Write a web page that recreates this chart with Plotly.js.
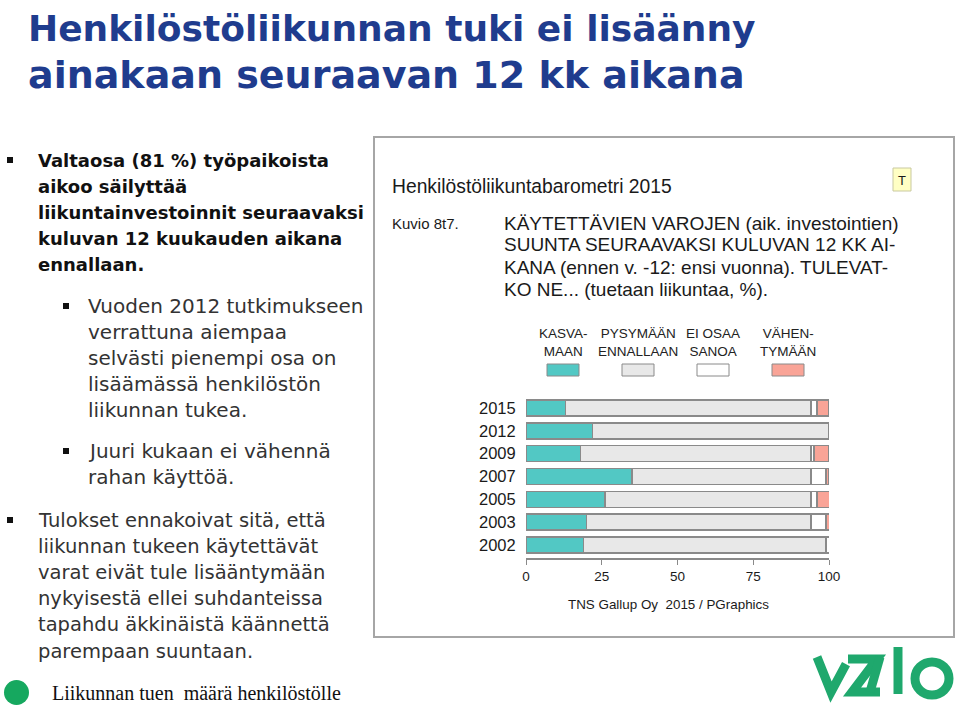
<!DOCTYPE html>
<html><head><meta charset="utf-8">
<script src="https://cdn.plot.ly/plotly-3.0.1.min.js"></script>
<style>html,body{margin:0;padding:0;background:#fff;}#chart{width:959px;height:711px;}</style>
</head><body><div id="chart"></div>
<script>
// ---- data ----
const years = ['2015','2012','2009','2007','2005','2003','2002'];
const kasvamaan   = [13,22,18,35,26,20,19];
const pysymaan    = [81,78,76,59,68,74,80];
const eiOsaa      = [2,1,1,5,2,5,2];
const vahentymaan = [4,0,5,1,5,2,0];
const seriesNames = ['KASVA-<br>MAAN','PYSYMÄÄN<br>ENNALLAAN','EI OSAA<br>SANOA','VÄHEN-<br>TYMÄÄN'];
const xTicks = [0,25,50,75,100];

const colors = ['#52c8c4','#e8e8e8','#ffffff','#f9a497'];
const W = 959, H = 711;
const px = x => x / W, py = y => 1 - y / H;

const series = [kasvamaan, pysymaan, eiOsaa, vahentymaan];
const traces = series.map((vals, i) => ({
  type: 'bar', orientation: 'h', x: vals, y: years,
  marker: {color: colors[i], line: {color: '#8a8a8a', width: 1.5}},
  width: 0.7, showlegend: false, hoverinfo: 'x+y'
}));

const ann = [];
const shapes = [];
function txt(x, y, text, size, opts) {
  ann.push(Object.assign({xref:'paper', yref:'paper', x: px(x), y: py(y), text: text,
    showarrow:false, xanchor:'left', yanchor:'middle',
    font:{family:'Liberation Sans, Arial, sans-serif', size:size, color:'#1a1a1a'}}, opts || {}));
}

// Slide title
txt(26, 28, '<b>Henkilöstöliikunnan tuki ei lisäänny</b>', 36, {font: {family:'DejaVu Sans, sans-serif', size:36, color:'#1f3c8e'}});
txt(26, 75, '<b>ainakaan seuraavan 12 kk aikana</b>', 38, {font: {family:'DejaVu Sans, sans-serif', size:38, color:'#1f3c8e'}});

// Left bullet text
const boldLines = ['Valtaosa (81 %) työpaikoista','aikoo säilyttää','liikuntainvestoinnit seuraavaksi','kuluvan 12 kuukauden aikana','ennallaan.'];
boldLines.forEach((l, i) => txt(36, 160 + i * 26, '<b>' + l + '</b>', 18, {font: {family:'DejaVu Sans, sans-serif', size:18, color:'#111'}}));
const subFont = {family:'DejaVu Sans, sans-serif', size:20, color:'#333'};
const sub1 = ['Vuoden 2012 tutkimukseen','verrattuna aiempaa','selvästi pienempi osa on','lisäämässä henkilöstön','liikunnan tukea.'];
sub1.forEach((l, i) => txt(86, 306 + i * 26, l, 20, {font: subFont}));
const sub2 = ['Juuri kukaan ei vähennä','rahan käyttöä.'];
sub2.forEach((l, i) => txt(86, 451 + i * 26, l, 20, {font: subFont}));
const third = ['Tulokset ennakoivat sitä, että','liikunnan tukeen käytettävät','varat eivät tule lisääntymään','nykyisestä ellei suhdanteissa','tapahdu äkkinäistä käännettä','parempaan suuntaan.'];
third.forEach((l, i) => txt(36, 520 + i * 26.2, l, 19.5, {font: {family:'DejaVu Sans, sans-serif', size:19.5, color:'#333'}}));
// bullets (small squares)
[[10,160],[66,306],[66,451],[10,520]].forEach(([bx,by]) => {
  shapes.push({type:'rect', xref:'paper', yref:'paper', x0:px(bx-3), x1:px(bx+3), y0:py(by-3), y1:py(by+3), fillcolor:'#111', line:{width:0}});
});

// Chart box
shapes.push({type:'rect', xref:'paper', yref:'paper', x0:px(374), x1:px(954), y0:py(137), y1:py(637), line:{color:'#a6a6a6', width:2}, fillcolor:'rgba(0,0,0,0)'});

// Chart texts
txt(390, 187, 'Henkilöstöliikuntabarometri 2015', 19.3);
txt(390, 223, 'Kuvio 8t7.', 15);
const chartTitle = ['KÄYTETTÄVIEN VAROJEN (aik. investointien)','SUUNTA SEURAAVAKSI KULUVAN 12 KK AI-','KANA (ennen v. -12: ensi vuonna). TULEVAT-','KO NE... (tuetaan liikuntaa, %).'];
chartTitle.forEach((l, i) => txt(502, 223 + i * 22, l, 19));
// T box
shapes.push({type:'rect', xref:'paper', yref:'paper', x0:px(893), x1:px(911), y0:py(168), y1:py(191), fillcolor:'#ffffc4', line:{color:'#c9c9a0', width:1}});
txt(902, 180, 'T', 13, {xanchor:'center'});

// Legend
const legendX = [563, 638, 713, 788];
seriesNames.forEach((n, i) => {
  txt(legendX[i], 343, n, 13.5, {xanchor:'center', font:{family:'Liberation Sans Narrow, Arial Narrow, Liberation Sans, sans-serif', size:13.5, color:'#222'}});
  shapes.push({type:'rect', xref:'paper', yref:'paper', x0:px(legendX[i]-16), x1:px(legendX[i]+16), y0:py(364), y1:py(376), fillcolor:colors[i], line:{color:'#8a8a8a', width:1}});
});

// Number columns
const colX = [852, 877, 899, 924];
series.forEach((vals, s) => {
  vals.forEach((v, r) => {
    ann.push({xref:'paper', yref:'y', x: px(colX[s]), y: years[r], text: String(v), showarrow:false,
      xanchor:'center', yanchor:'middle', font:{family:'Liberation Sans, Arial, sans-serif', size:12.5, color:'#1a1a1a'}});
  });
});

txt(566, 604, 'TNS Gallup Oy  2015 / PGraphics', 13.4);

// Footer
shapes.push({type:'circle', xref:'paper', yref:'paper', x0:px(4), x1:px(29), y0:py(680), y1:py(705), fillcolor:'#16a85f', line:{width:0}});
txt(50, 693, 'Liikunnan tuen  määrä henkilöstölle', 20, {font:{family:'Liberation Serif, Times New Roman, serif', size:20, color:'#111'}});

// Logo (VALO) as stroked paths
const logoCol = '#1fa86d';
function pathPx(pts) { return pts.map((p, i) => (i ? 'L' : 'M') + px(p[0]) + ',' + py(p[1])).join(' '); }
[[[817,657],[831,692],[846,664]], [[848,659],[877,659],[852,692],[880,692]], [[880,657],[870,692]], [[898,647],[898,694]]].forEach(p => {
  shapes.push({type:'path', xref:'paper', yref:'paper', path: pathPx(p), line:{color:logoCol, width:9}});
});
shapes.push({type:'circle', xref:'paper', yref:'paper', x0:px(915), x1:px(949), y0:py(662), y1:py(695), line:{color:logoCol, width:9}, fillcolor:'rgba(0,0,0,0)'});

const layout = {
  width: W, height: H, margin:{l:0,r:0,t:0,b:0}, paper_bgcolor:'#fff', plot_bgcolor:'rgba(0,0,0,0)',
  barmode:'stack', bargap: 0.3,
  xaxis:{domain:[px(526), px(829)], range:[0,100], tickvals:xTicks, ticktext:xTicks.map(String),
    showgrid:false, zeroline:false, showline:true, linecolor:'#8a8a8a', linewidth:1.5,
    ticks:'outside', ticklen:5, tickcolor:'#8a8a8a', tickfont:{family:'Liberation Sans, Arial, sans-serif', size:13.5, color:'#1a1a1a'}},
  yaxis:{domain:[py(558), py(396.6)], type:'category', categoryorder:'array', categoryarray:years,
    range:[6.57,-0.5], showgrid:false, zeroline:false, showline:false,
    ticks:'outside', ticklen:6, tickcolor:'rgba(0,0,0,0)', tickfont:{family:'Liberation Sans, Arial, sans-serif', size:16.5, color:'#1a1a1a'}},
  annotations: ann, shapes: shapes
};
Plotly.newPlot('chart', traces, layout, {displayModeBar:false, staticPlot:true});
</script></body></html>
